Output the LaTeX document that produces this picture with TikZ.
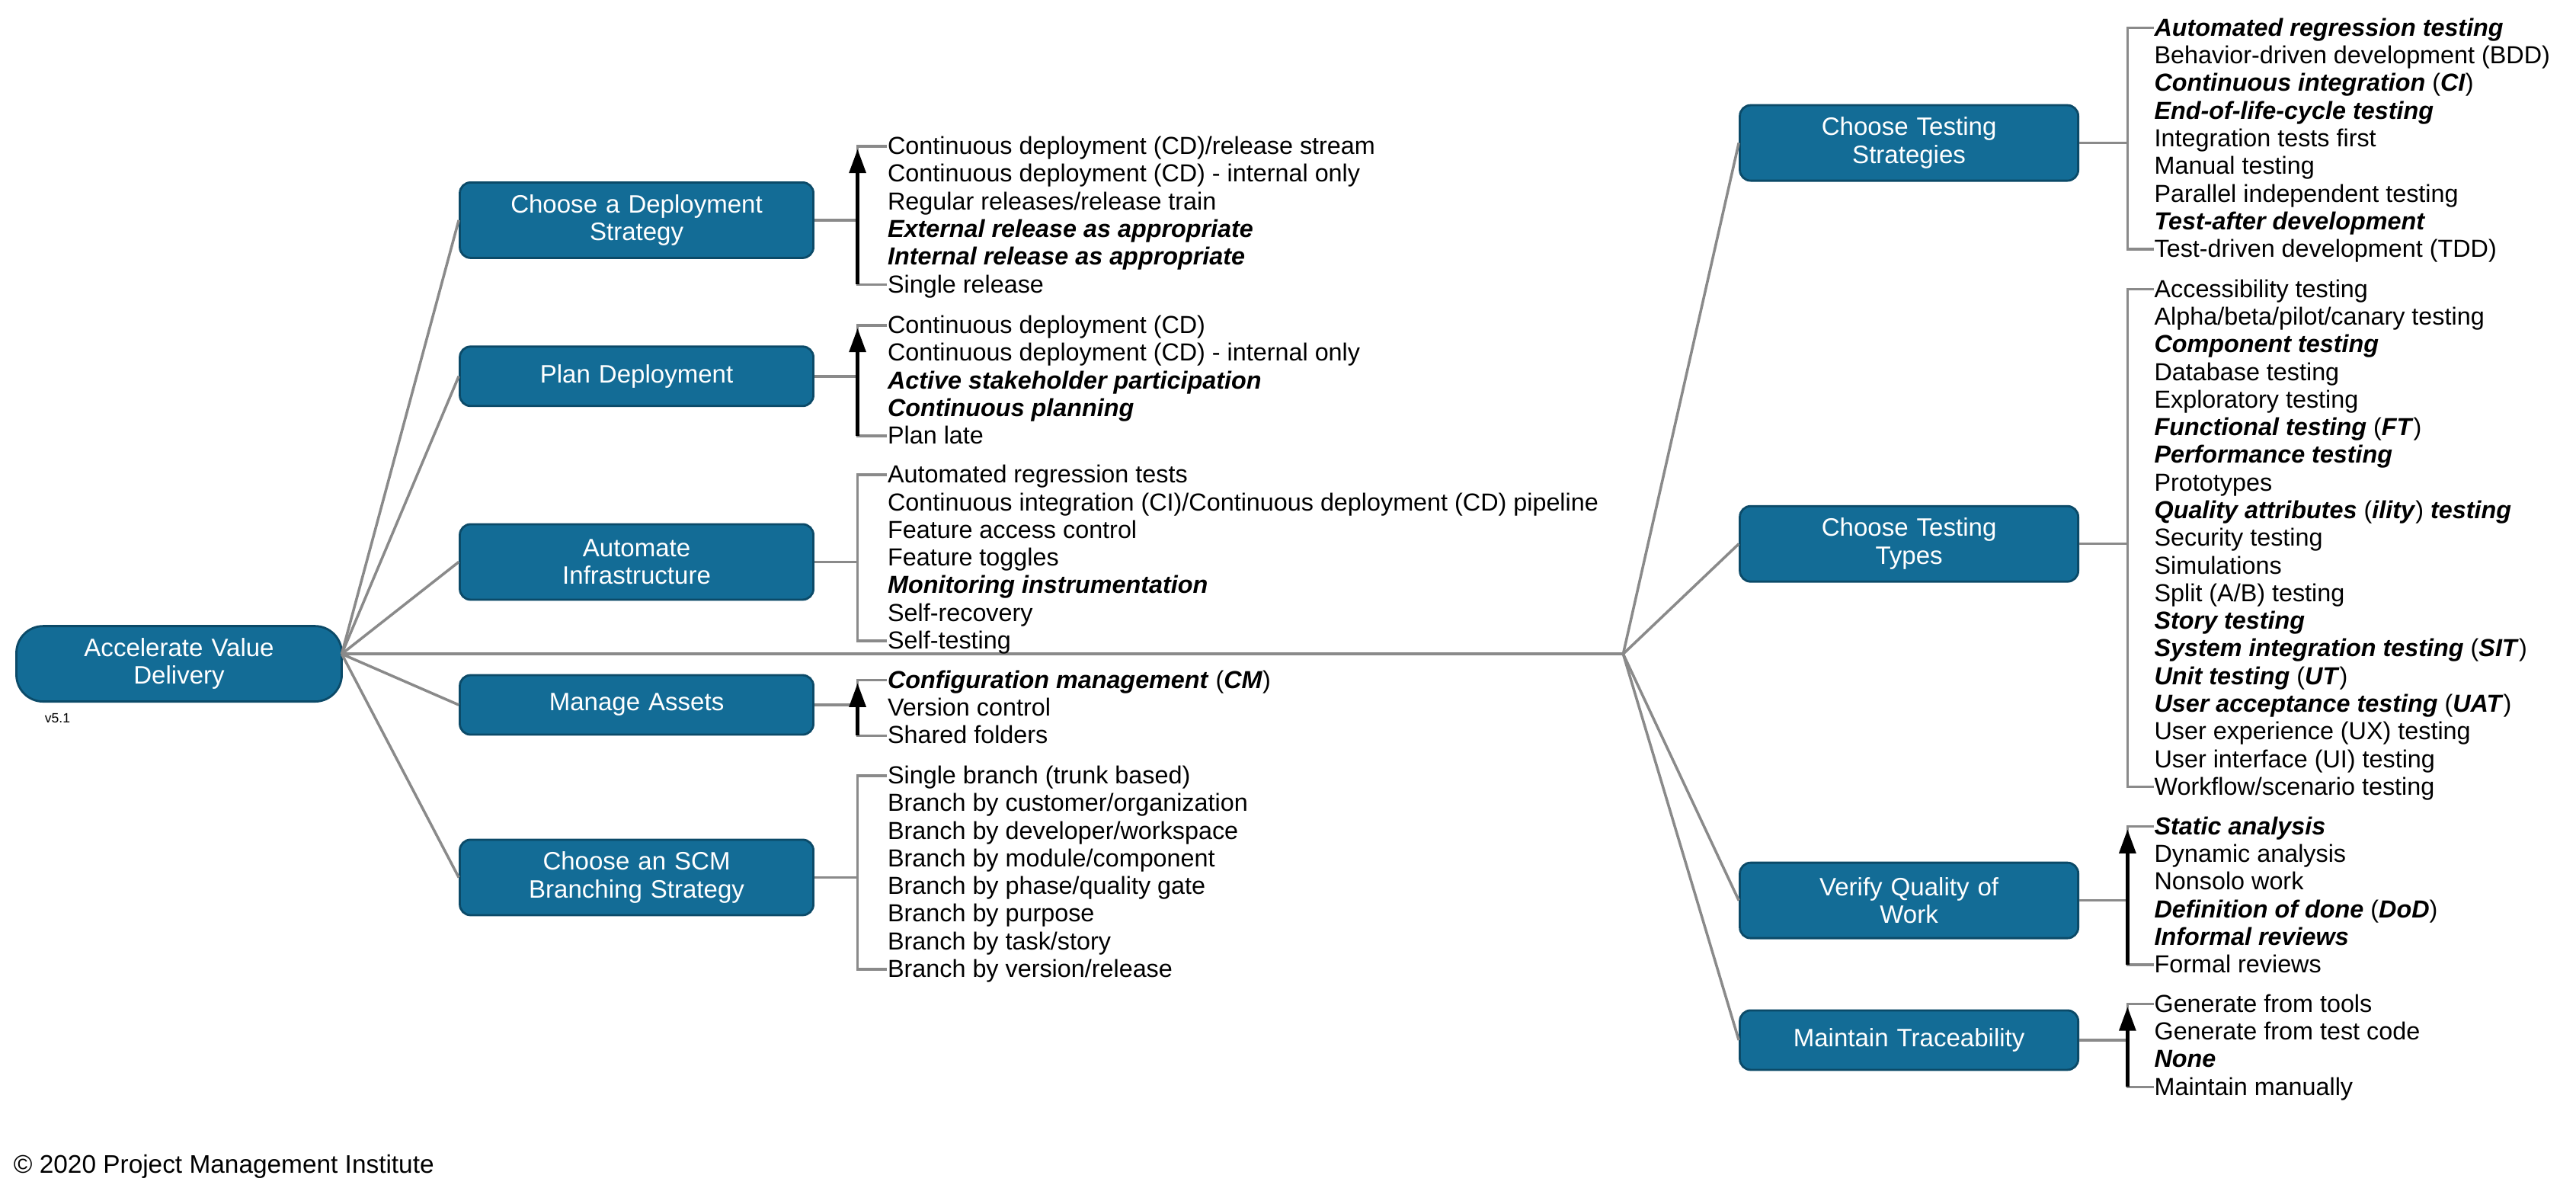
\documentclass[tikz,border=0pt]{standalone}
\usepackage{fontspec}
\setmainfont{Liberation Sans}
\usetikzlibrary{arrows.meta}
\definecolor{pmiblue}{HTML}{136C96}
\definecolor{pmidark}{HTML}{0B4A68}
\definecolor{linkgray}{HTML}{8A8A8A}
\newcommand\bi[1]{\textbf{\textit{#1}}}
% liste d'items : nom, x, y du premier, items
\newcommand\itemlist[4]{%
  \foreach \t [count=\k] in {#4} {\node[item] (#1-\k) at (#2,{#3+(\k-1)*16.83}) {\t};}}
% crochet gris : boite, liste, nombre d'items, x du crochet
\newcommand\bracket[4]{%
  \draw[link] (#1.east) -- (#4,0 |- #1.east);
  \draw[link] (#2-1.west) -- (#4,0 |- #2-1.west) -- (#4,0 |- #2-#3.west) -- (#2-#3.west);}
% fleche noire vers le haut
\newcommand\listarrow[3]{%
  \draw[-{Triangle[length=9pt,width=6pt]},line width=1.6pt] (#3,0 |- #1-#2.west) -- ([yshift=-1pt]#3,0 |- #1-1.west);}
\begin{document}
\begin{tikzpicture}[x=0.02156cm,y=-0.02156cm,
  box/.style={draw=pmidark,fill=pmiblue,text=white,rounded corners=4pt,line width=0.8pt,
    align=center,font=\fontsize{9.4}{10.4}\selectfont,minimum height=0.99cm,inner sep=1pt},
  lbox/.style={box,minimum width=4.64cm,text width=4.3cm},
  rbox/.style={box,minimum width=4.44cm,text width=4.1cm},
  item/.style={anchor=west,inner sep=0pt,text height=1.6ex,text depth=0.45ex,font=\fontsize{9.2}{10}\selectfont},
  link/.style={draw=linkgray,line width=1pt}]

  \useasboundingbox (0,0) rectangle (1568,722.6);

  % racine
  \node[box,rounded corners=10pt,minimum width=4.27cm,text width=3.6cm] (root) at (109,404) {Accelerate Value\\Delivery};
  \node[anchor=west,inner sep=0pt,font=\fontsize{5}{6}\selectfont] (version) at (27,437) {v5.1};
  \node[anchor=west,inner sep=0pt,font=\fontsize{9.5}{10}\selectfont] (copy) at (8,710) {© 2020 Project Management Institute};

  % boites de gauche
  \node[lbox] (deploy) at (387.5,134) {Choose a Deployment\\Strategy};
  \node[lbox,minimum height=0.78cm] (plan) at (387.5,229) {Plan Deployment};
  \node[lbox] (infra) at (387.5,342) {Automate\\Infrastructure};
  \node[lbox,minimum height=0.78cm] (assets) at (387.5,429) {Manage Assets};
  \node[lbox] (scm) at (387.5,534) {Choose an SCM\\Branching Strategy};

  % boites de droite
  \node[rbox] (strat) at (1162,87) {Choose Testing\\Strategies};
  \node[rbox] (types) at (1162,331) {Choose Testing\\Types};
  \node[rbox] (verify) at (1162,548) {Verify Quality of\\Work};
  \node[rbox,minimum height=0.78cm] (trace) at (1162,633) {Maintain Traceability};

  % liaisons
  \coordinate (out) at (208,398);
  \coordinate (hub) at (988,398);
  \foreach \b in {deploy,plan,infra,assets,scm}
    \draw[link] (out) -- (\b.west);
  \draw[link] (out) -- (hub);
  \foreach \b in {strat,types,verify,trace}
    \draw[link] (hub) -- (\b.west);

  % listes de gauche
  \itemlist{dep}{540}{89}{{Continuous deployment (CD)/release stream},{Continuous deployment (CD) - internal only},
    {Regular releases/release train},{\bi{External release as appropriate}},{\bi{Internal release as appropriate}},{Single release}}
  \itemlist{pla}{540}{198}{{Continuous deployment (CD)},{Continuous deployment (CD) - internal only},
    {\bi{Active stakeholder participation}},{\bi{Continuous planning}},{Plan late}}
  \itemlist{inf}{540}{289}{{Automated regression tests},{Continuous integration (CI)/Continuous deployment (CD) pipeline},
    {Feature access control},{Feature toggles},{\bi{Monitoring instrumentation}},{Self-recovery},{Self-testing}}
  \itemlist{ass}{540}{414}{{\bi{Configuration management} (\bi{CM})},{Version control},{Shared folders}}
  \itemlist{scb}{540}{472}{{Single branch (trunk based)},{Branch by customer/organization},{Branch by developer/workspace},
    {Branch by module/component},{Branch by phase/quality gate},{Branch by purpose},{Branch by task/story},{Branch by version/release}}

  % listes de droite
  \itemlist{sts}{1311}{17}{{\bi{Automated regression testing}},{Behavior-driven development (BDD)},
    {\bi{Continuous integration} (\bi{CI})},{\bi{End-of-life-cycle testing}},{Integration tests first},{Manual testing},
    {Parallel independent testing},{\bi{Test-after development}},{Test-driven development (TDD)}}
  \itemlist{typ}{1311}{176}{{Accessibility testing},{Alpha/beta/pilot/canary testing},{\bi{Component testing}},
    {Database testing},{Exploratory testing},{\bi{Functional testing} (\bi{FT})},{\bi{Performance testing}},{Prototypes},
    {\bi{Quality attributes} (\bi{ility}) \bi{testing}},{Security testing},{Simulations},{Split (A/B) testing},
    {\bi{Story testing}},{\bi{System integration testing} (\bi{SIT})},{\bi{Unit testing} (\bi{UT})},
    {\bi{User acceptance testing} (\bi{UAT})},{User experience (UX) testing},{User interface (UI) testing},
    {Workflow/scenario testing}}
  \itemlist{ver}{1311}{503}{{\bi{Static analysis}},{Dynamic analysis},{Nonsolo work},{\bi{Definition of done} (\bi{DoD})},
    {\bi{Informal reviews}},{Formal reviews}}
  \itemlist{trc}{1311}{611}{{Generate from tools},{Generate from test code},{\bi{None}},{Maintain manually}}

  % crochets
  \bracket{deploy}{dep}{6}{522}
  \bracket{plan}{pla}{5}{522}
  \bracket{infra}{inf}{7}{522}
  \bracket{assets}{ass}{3}{522}
  \bracket{scm}{scb}{8}{522}
  \bracket{strat}{sts}{9}{1295}
  \bracket{types}{typ}{19}{1295}
  \bracket{verify}{ver}{6}{1295}
  \bracket{trace}{trc}{4}{1295}

  % fleches
  \listarrow{dep}{6}{522}
  \listarrow{pla}{5}{522}
  \listarrow{ass}{3}{522}
  \listarrow{ver}{6}{1295}
  \listarrow{trc}{4}{1295}
\end{tikzpicture}
\end{document}
